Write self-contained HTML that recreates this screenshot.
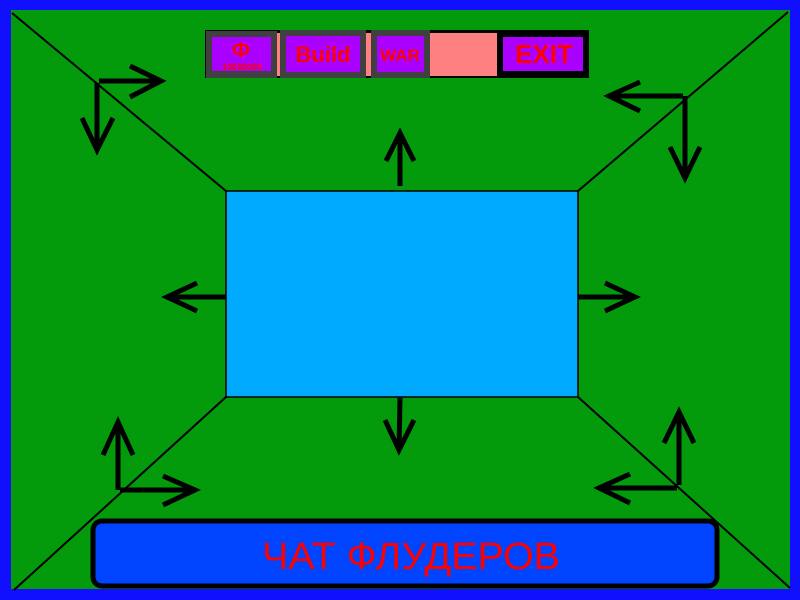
<!DOCTYPE html>
<html><head><meta charset="utf-8"><style>html,body{margin:0;padding:0;width:800px;height:600px;overflow:hidden}</style></head>
<body>
<svg width="800" height="600" xmlns="http://www.w3.org/2000/svg" font-family="Liberation Sans, sans-serif">
<rect width="800" height="600" fill="#1010ff"/>
<rect x="11" y="10" width="779" height="579" fill="#039a0c"/>
<g stroke="#000" stroke-width="2">
<line x1="12" y1="13" x2="226" y2="191"/>
<line x1="788" y1="12" x2="578" y2="191"/>
<line x1="226" y1="397" x2="14" y2="590"/>
<line x1="578" y1="397" x2="790" y2="588"/>
</g>
<rect x="226" y="191" width="352" height="206" fill="#00aaff" stroke="#000" stroke-width="1.5"/>
<g stroke="#000" stroke-width="5" fill="none">
<line x1="99" y1="81" x2="161" y2="81"/><polyline points="130,66 161,81 130,97"/>
<line x1="97" y1="83" x2="97" y2="150"/><polyline points="82,118 97,150 113,118"/>
<line x1="683" y1="96" x2="609" y2="96"/><polyline points="640,82 609,96 640,111"/>
<line x1="685" y1="96" x2="685" y2="178"/><polyline points="670,147 685,178 700,147"/>
<line x1="400" y1="186" x2="400" y2="133"/><polyline points="386,161 400,133 414,161"/>
<line x1="226" y1="297" x2="167" y2="297"/><polyline points="197,283 167,297 197,311"/>
<line x1="578" y1="297" x2="635" y2="297"/><polyline points="605,283 635,297 605,311"/>
<line x1="400" y1="398" x2="399" y2="450"/><polyline points="385,420 399,450 414,420"/>
<line x1="118" y1="490" x2="118" y2="422"/><polyline points="103,455 118,422 133,455"/>
<line x1="120" y1="490" x2="195" y2="490"/><polyline points="163,476 195,490 163,505"/>
<line x1="679" y1="485" x2="679" y2="412"/><polyline points="664,443 679,412 694,443"/>
<line x1="677" y1="488" x2="599" y2="488"/><polyline points="630,474 599,488 630,503"/>
</g>
<!-- top bar -->
<rect x="205" y="30" width="384" height="48" fill="#000"/>
<rect x="206" y="31" width="71" height="47" fill="#404040"/>
<rect x="212" y="37" width="59" height="34" fill="#aa00ff"/>
<rect x="277" y="33" width="4" height="43" fill="#ff8080"/>
<rect x="280" y="30" width="86" height="48" fill="#404040"/>
<rect x="286" y="36" width="74" height="36" fill="#aa00ff"/>
<rect x="366" y="33" width="5" height="43" fill="#ff8080"/>
<rect x="371" y="30" width="59" height="48" fill="#404040"/>
<rect x="377" y="36" width="47" height="36" fill="#aa00ff"/>
<rect x="430" y="33" width="67" height="43" fill="#ff8080"/>
<rect x="503" y="37" width="80" height="34" fill="#aa00ff"/>
<g fill="#ff0000" font-weight="bold" text-anchor="middle">
<text x="241" y="57" font-size="21">Ф</text>
<text x="242" y="70" font-size="9">10000000</text>
<text x="323" y="62" font-size="22">Build</text>
<text x="400" y="61" font-size="17">WAR</text>
<text x="544" y="63" font-size="26">EXIT</text>
</g>
<rect x="93" y="521" width="624" height="65" rx="9" fill="#0044ff" stroke="#000" stroke-width="5"/>
<text x="411" y="569" font-size="38" fill="#ff0000" text-anchor="middle" textLength="298" lengthAdjust="spacingAndGlyphs">ЧАТ ФЛУДЕРОВ</text>
</svg>
</body></html>
